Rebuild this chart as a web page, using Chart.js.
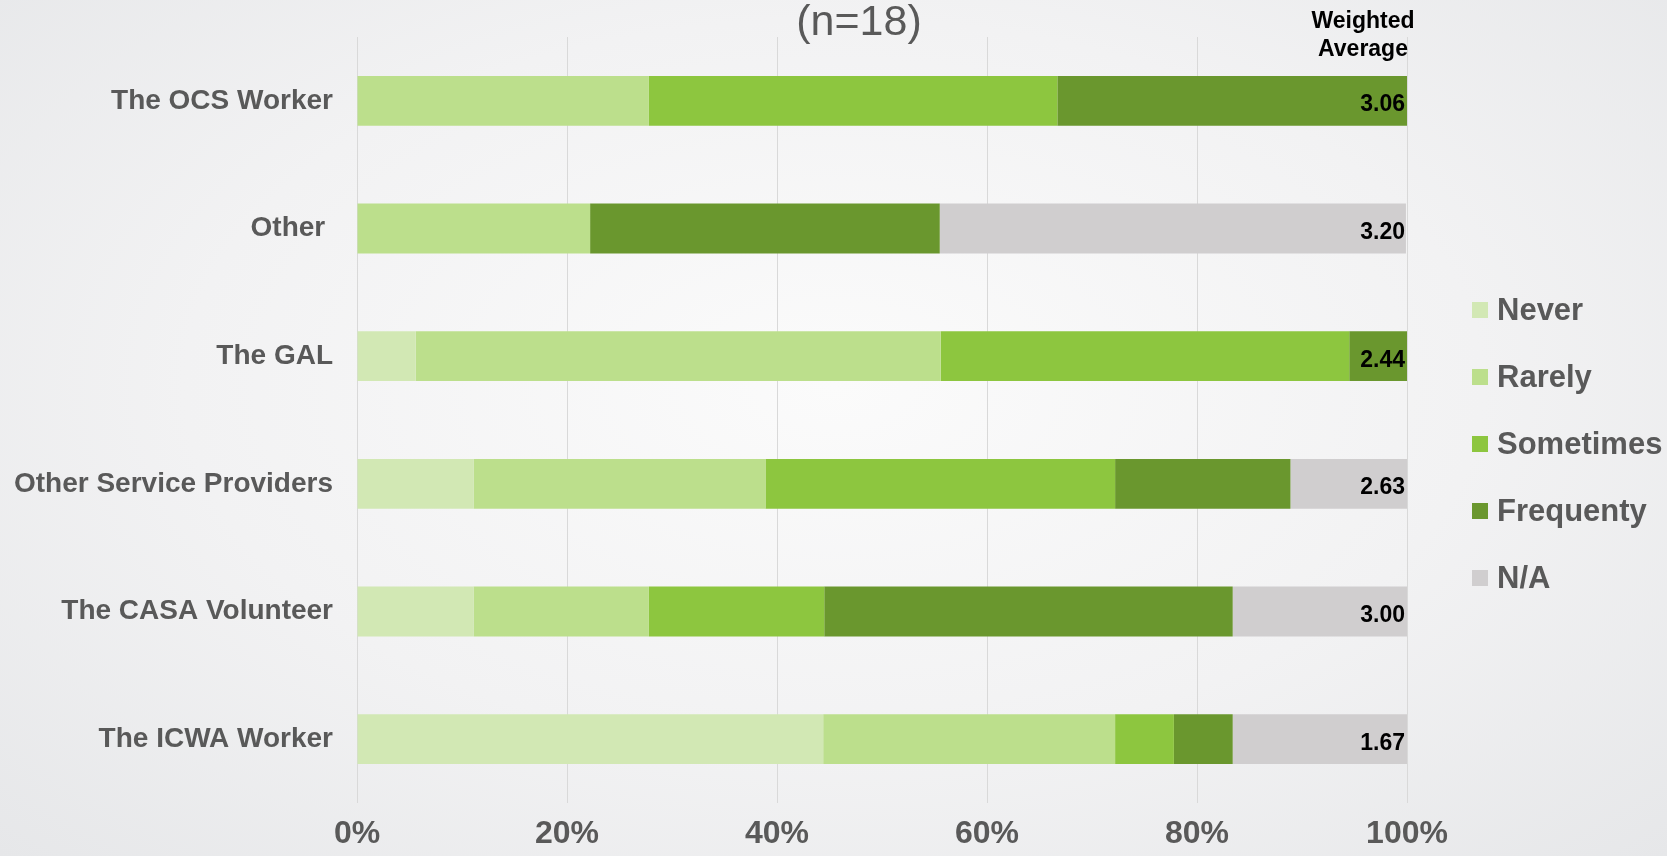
<!DOCTYPE html>
<html>
<head>
<meta charset="utf-8">
<script src="https://cdn.jsdelivr.net/npm/chart.js@4"></script>
<style>
  html, body { margin: 0; padding: 0; }
  body {
    width: 1667px; height: 856px; overflow: hidden;
    background: radial-gradient(ellipse at 50% 45%, #fbfbfb 0%, #f2f2f3 55%, #e6e7e9 100%);
  }
  #wrap { position: relative; width: 1667px; height: 856px; }
</style>
</head>
<body>
<div id="wrap"><canvas id="chart"></canvas></div>
<script>
// Categories top to bottom
const categories = ['The OCS Worker', 'Other ', 'The GAL', 'Other Service Providers', 'The CASA Volunteer', 'The ICWA Worker'];

// Response shares (%) per category, n=18
const neverValues     = [0,    0,    5.6,  11.1, 11.1, 44.4];
const rarelyValues    = [27.8, 22.2, 50.0, 27.8, 16.7, 27.8];
const sometimesValues = [38.9, 0,    38.9, 33.3, 16.7, 5.6];
const frequentlyValues = [33.3, 33.3, 5.6, 16.7, 38.9, 5.6];
const naValues        = [0,    44.4, 0,    11.1, 16.7, 16.7];

const weightedAverages = ['3.06', '3.20', '2.44', '2.63', '3.00', '1.67'];
const xTickLabels = ['0%', '20%', '40%', '60%', '80%', '100%'];

const seriesNames = ['Never', 'Rarely', 'Sometimes', 'Frequenty', 'N/A'];
const seriesColors = ['#d2e8b4', '#bcdf8c', '#8dc63f', '#6a972e', '#d0cecf'];

const FONT = '"Liberation Sans", Arial, sans-serif';
const textGray = '#595959';

const overlayPlugin = {
  id: 'overlay',
  afterDatasetsDraw(chart) {
    const ctx = chart.ctx;
    const area = chart.chartArea;
    ctx.save();

    // title
    ctx.fillStyle = textGray;
    ctx.font = '43px ' + FONT;
    ctx.textAlign = 'center';
    ctx.textBaseline = 'middle';
    ctx.fillText('(n=18)', 859, 23);

    // weighted average header
    ctx.fillStyle = '#000';
    ctx.font = 'bold 23px ' + FONT;
    ctx.fillText('Weighted', 1363, 22);
    ctx.fillText('Average', 1363, 50);

    // weighted average values
    const meta = chart.getDatasetMeta(0);
    ctx.textAlign = 'right';
    ctx.font = 'bold 23px ' + FONT;
    meta.data.forEach((bar, i) => {
      ctx.fillText(weightedAverages[i], area.right - 2, bar.y + 4);
    });

    // legend
    ctx.textAlign = 'left';
    ctx.font = 'bold 31px ' + FONT;
    chart.data.datasets.forEach((ds, i) => {
      const y = 310 + i * 67;
      ctx.fillStyle = ds.backgroundColor;
      ctx.fillRect(1472, y - 8, 16, 16);
      ctx.fillStyle = textGray;
      ctx.fillText(ds.label, 1497, y + 1);
    });
    ctx.restore();
  }
};

const seriesValues = [neverValues, rarelyValues, sometimesValues, frequentlyValues, naValues];

new Chart(document.getElementById('chart'), {
  type: 'bar',
  data: {
    labels: categories,
    datasets: seriesNames.map((name, i) => ({
      label: name,
      data: seriesValues[i],
      backgroundColor: seriesColors[i],
      borderWidth: 0,
      categoryPercentage: 1,
      barPercentage: 0.39
    }))
  },
  options: {
    indexAxis: 'y',
    responsive: true,
    maintainAspectRatio: false,
    animation: false,
    layout: { padding: { top: 37, right: 260, left: 0, bottom: 0 } },
    plugins: {
      legend: { display: false },
      tooltip: { enabled: false }
    },
    scales: {
      x: {
        stacked: true,
        min: 0,
        max: 100,
        afterFit: (scale) => { scale.height = 53; },
        ticks: {
          stepSize: 20,
          color: textGray,
          font: { family: FONT, size: 32, weight: 'bold' },
          padding: 12,
          maxRotation: 0,
          callback: (value, index) => xTickLabels[index]
        },
        grid: { color: '#d9d9d9', lineWidth: 1, drawTicks: false },
        border: { display: false }
      },
      y: {
        stacked: true,
        afterFit: (scale) => {
          scale.width = 357;
          // labels sit beside bars, no need for extra top/bottom room
          scale.paddingTop = 0;
          scale.paddingBottom = 0;
        },
        ticks: {
          color: textGray,
          font: { family: FONT, size: 28, weight: 'bold' },
          padding: 24
        },
        grid: { display: false, drawTicks: false },
        border: { display: false }
      }
    }
  },
  plugins: [overlayPlugin]
});
</script>
</body>
</html>
